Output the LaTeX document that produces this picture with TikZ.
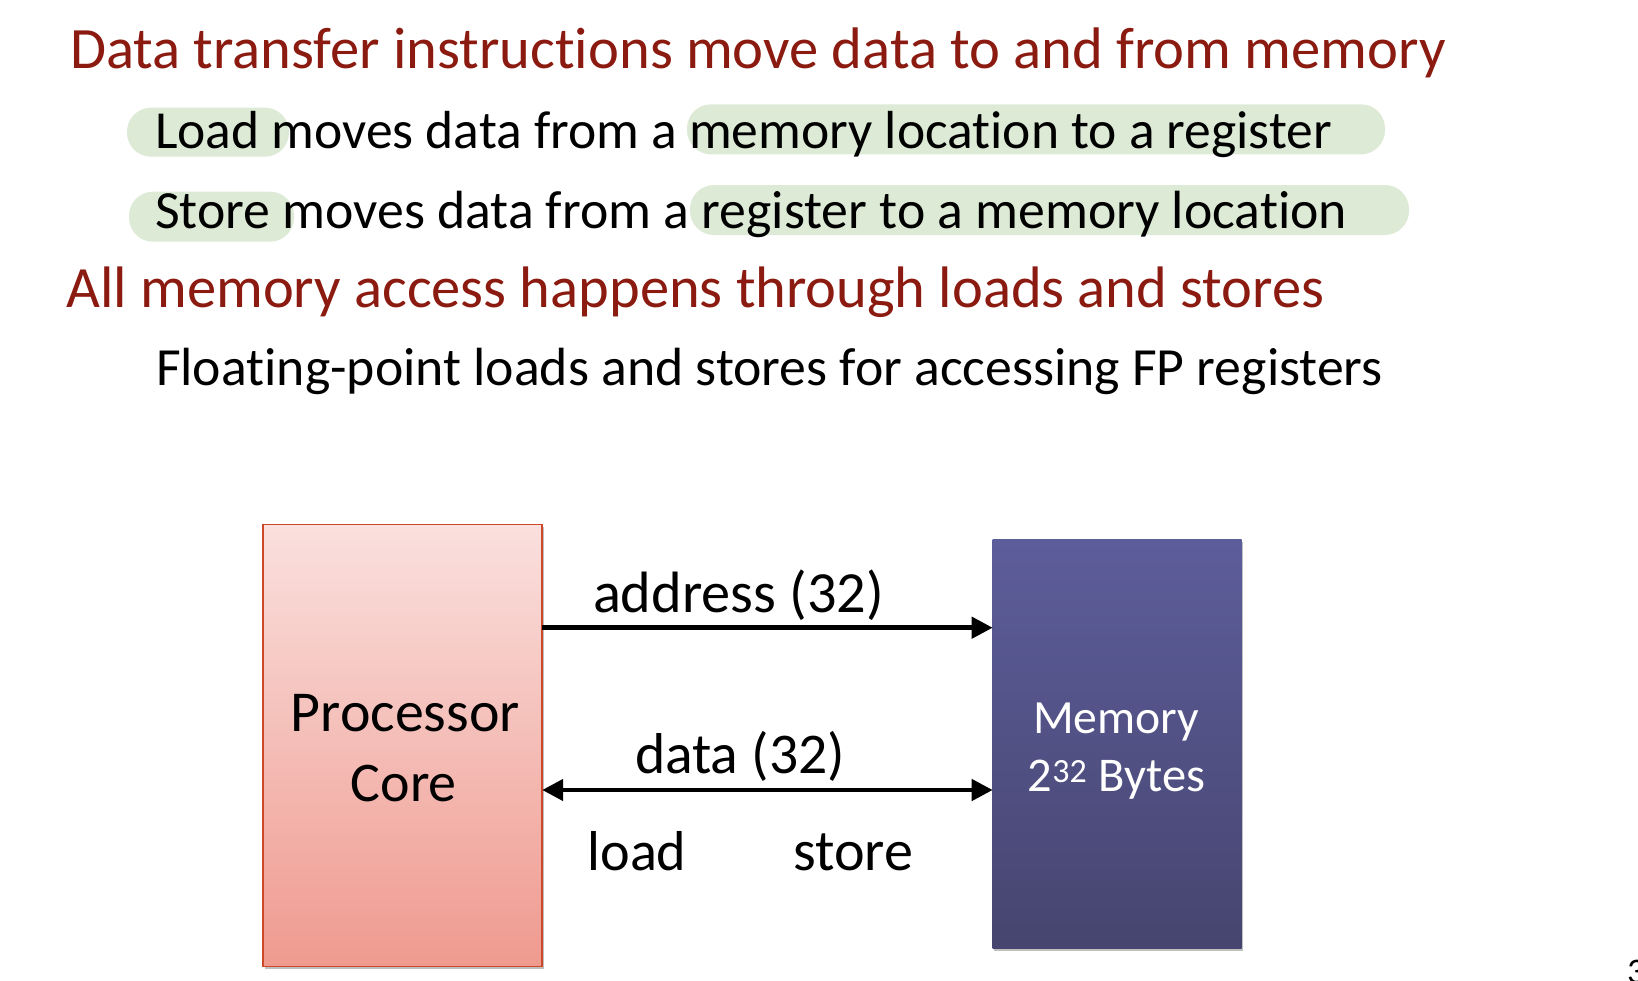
\documentclass[tikz,border=0pt]{standalone}
\usepackage{fontspec}
\setmainfont{Carlito}[Ligatures={NoCommon}]
\usetikzlibrary{arrows.meta,shadows}
\definecolor{titlered}{RGB}{139,26,16}
\definecolor{hlgreen}{RGB}{221,235,214}
\definecolor{proctop}{RGB}{250,224,222}
\definecolor{procbot}{RGB}{239,154,143}
\definecolor{procborder}{RGB}{205,72,40}
\definecolor{memtop}{RGB}{93,93,155}
\definecolor{membot}{RGB}{70,69,111}
\newsavebox\fitbox
\newlength\fitlen
\newcommand\fitw[2]{\sbox\fitbox{\fontsize{100pt}{100pt}\selectfont #2}\setlength\fitlen{\wd\fitbox}\pgfmathsetmacro\fitsz{#1/\fitlen*100}\fontsize{\fitsz pt}{\fitsz pt}\selectfont #2}
\tikzset{bigtip/.tip={Triangle[length=21pt,width=21pt]}}
\begin{document}
\begin{tikzpicture}[x=1pt,y=-1pt,
  txt/.style={inner sep=0pt, outer sep=0pt, anchor=base west},
  ttl/.style={txt, text=titlered},
  hl/.style={fill=hlgreen, rounded corners=24pt},
  procbox/.style={draw=procborder, line width=1.5pt, top color=proctop, bottom color=procbot,
    minimum width=279pt, minimum height=442pt, inner sep=0pt, outer sep=0pt,
    drop shadow={shadow xshift=1.5pt, shadow yshift=-3pt, opacity=0.25, fill=black}},
  membox/.style={top color=memtop, bottom color=membot,
    minimum width=249pt, minimum height=409pt, inner sep=0pt, outer sep=0pt,
    drop shadow={shadow xshift=1.5pt, shadow yshift=-3pt, opacity=0.25, fill=black}},
  conn/.style={line width=4.5pt, black}]
\useasboundingbox (0,0) rectangle (1638,980);
\clip (0,0) rectangle (1638,980);
\fill[white] (0,0) rectangle (1638,980);
% highlights
\fill[hl] (127,107.7) rectangle (289,156.7);
\fill[hl] (687,104.3) rectangle (1385,154.3);
\fill[hl] (129,191.7) rectangle (294,241.7);
\fill[hl] (690,185) rectangle (1409,235);
% text lines
\node[ttl] (t1) at (70,68.3) {\fitw{1376}{Data transfer instructions move data to and from memory}};
\node[txt] (b1) at (155,148.3) {\fitw{1177}{Load moves data from a memory location to a register}};
\node[txt] (b2) at (155,228) {\fitw{1192}{Store moves data from a register to a memory location}};
\node[ttl] (t2) at (66.5,307.5) {\fitw{1258}{All memory access happens through loads and stores}};
\node[txt] (b3) at (156,385) {\fitw{1227}{Floating-point loads and stores for accessing FP registers}};
% boxes
\node[procbox] (proc) at (402.7,745.3) {};
\node[membox] (mem) at (1117.2,743.8) {};
\node[txt, anchor=base] (proc1) at (405.3,731.7) {\fitw{229}{Processor}};
\node[txt, anchor=base] (proc2) at (403.8,801.7) {\fitw{106}{Core}};
\node[txt, anchor=base, text=white] (mem1) at (1116,733.3) {\fitw{166}{Memory}};
\node[txt, anchor=base, text=white] (mem2) at (1116.5,791.7) {\fitw{177}{2\textsuperscript{32} Bytes}};
% connectors
\coordinate (ya) at (0,627.7);
\coordinate (yd) at (0,790);
\draw[conn, -bigtip] (proc.east |- ya) -- (mem.west |- ya);
\draw[conn, bigtip-bigtip] (proc.east |- yd) -- (mem.west |- yd);
\node[txt] (addr) at (593,612.7) {\fitw{291}{address (32)}};
\node[txt] (data) at (635,773.3) {\fitw{210}{data (32)}};
\node[txt] (load) at (587.5,870) {\fitw{99}{load}};
\node[txt] (store) at (793,870) {\fitw{120}{store}};
% page number
\node[txt] (pg) at (1627,983) {\fontsize{36pt}{36pt}\selectfont 3};
\end{tikzpicture}
\end{document}
